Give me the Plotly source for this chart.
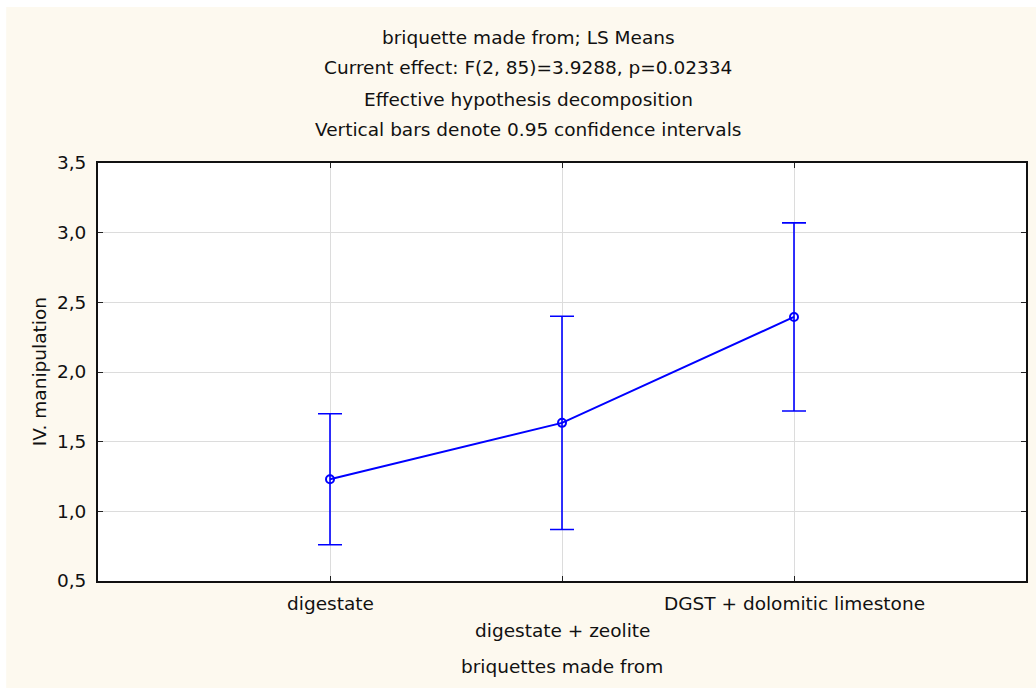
import plotly.graph_objects as go

# LS means of IV. manipulation by briquette material, with 0.95 CI half-widths
categories = ["digestate", "digestate + zeolite", "DGST + dolomitic limestone"]
ls_means = [1.23, 1.635, 2.395]
ci_half = [0.47, 0.765, 0.675]

title_lines = [
    "briquette made from; LS Means",
    "Current effect: F(2, 85)=3.9288, p=0.02334",
    "Effective hypothesis decomposition",
    "Vertical bars denote 0.95 confidence intervals",
]
x_title = "briquettes made from"
y_title = "IV. manipulation"

FONT = "DejaVu Sans"
FS = 18.5
BLUE = "#0000FF"
CREAM = "#FDF9EF"

fig = go.Figure()
fig.add_trace(go.Scatter(
    x=categories,
    y=ls_means,
    mode="lines+markers",
    line=dict(color=BLUE, width=2),
    marker=dict(symbol="circle-open", size=8, color=BLUE, line=dict(width=2, color=BLUE)),
    error_y=dict(type="data", array=ci_half, visible=True, color=BLUE,
                 thickness=1.6, width=12),
    showlegend=False,
    cliponaxis=False,
))

annotations = []
# stacked title lines
title_y = [1.3014, 1.2273, 1.1531, 1.079]
for txt, ty in zip(title_lines, title_y):
    annotations.append(dict(text=txt, x=0.4634, y=ty, xref="paper", yref="paper",
                            showarrow=False, xanchor="center", yanchor="middle",
                            font=dict(family=FONT, size=FS, color="#111111")))
# staggered category labels
row_y = [-0.055, -0.1196]
for i, cat in enumerate(categories):
    annotations.append(dict(text=cat, x=cat, y=row_y[i % 2], xref="x", yref="paper",
                            showarrow=False, xanchor="center", yanchor="middle",
                            font=dict(family=FONT, size=FS, color="#111111")))
annotations.append(dict(text=x_title, x=0.5, y=-0.2057, xref="paper", yref="paper",
                        showarrow=False, xanchor="center", yanchor="middle",
                        font=dict(family=FONT, size=FS, color="#111111")))
annotations.append(dict(text=y_title, x=-0.0634, y=0.5, xref="paper", yref="paper",
                        showarrow=False, xanchor="center", yanchor="middle", textangle=-90,
                        font=dict(family=FONT, size=FS, color="#111111")))

shapes = [
    # cream page background with a thin white strip at the top and left
    dict(type="rect", xref="paper", yref="paper", x0=-0.0989, x1=1.05, y0=-0.3, y1=1.373,
         fillcolor=CREAM, line=dict(width=0), layer="below"),
    dict(type="rect", xref="paper", yref="paper", x0=0, x1=1, y0=0, y1=1,
         fillcolor="white", line=dict(width=0), layer="below"),
]

fig.update_layout(
    width=1036, height=688,
    margin=dict(l=98, r=8, t=163, b=107),
    paper_bgcolor="white",
    plot_bgcolor="white",
    separators=",.",
    font=dict(family=FONT, size=FS, color="#111111"),
    annotations=annotations,
    shapes=shapes,
)
fig.update_xaxes(
    type="category", range=[-1, 3],
    tickvals=categories, showticklabels=False,
    ticks="inside", ticklen=5, tickcolor="#222222", tickwidth=1,
    showgrid=True, gridcolor="#DCDCDC", gridwidth=1,
    showline=True, linecolor="#111111", linewidth=2, mirror="ticks",
    zeroline=False,
)
fig.update_yaxes(
    range=[0.5, 3.5], dtick=0.5, tick0=0.5, tickformat=".1f",
    ticks="inside", ticklen=5, tickcolor="#222222", tickwidth=1,
    ticklabelstandoff=6,
    tickfont=dict(family=FONT, size=FS, color="#111111"),
    showgrid=True, gridcolor="#DCDCDC", gridwidth=1,
    showline=True, linecolor="#111111", linewidth=2, mirror="ticks",
    zeroline=False,
)

fig.write_html("out.html")
